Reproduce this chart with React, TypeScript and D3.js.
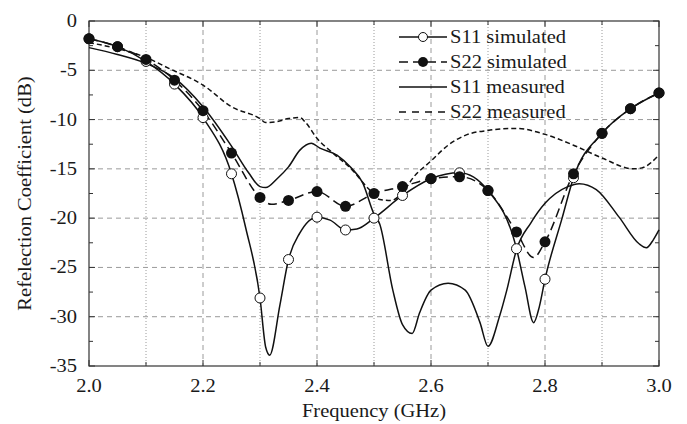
import * as d3 from "d3";

// frequency (GHz), reflection coefficient (dB)
const s11Simulated: [number, number][] = [
  [2.0, -1.8], [2.05, -2.6], [2.1, -4.1], [2.15, -6.4], [2.2, -9.8], [2.25, -15.5],
  [2.275, -21.0], [2.3, -28.1], [2.31, -33.1], [2.317, -33.9], [2.335, -28.8],
  [2.35, -24.2], [2.37, -21.5], [2.4, -19.9], [2.423, -20.2], [2.45, -21.2],
  [2.47, -21.1], [2.5, -20.0], [2.55, -17.7], [2.6, -16.0], [2.65, -15.4],
  [2.7, -17.2], [2.75, -23.1], [2.765, -27.0], [2.78, -30.6], [2.79, -29.0],
  [2.8, -26.2], [2.83, -20.0], [2.85, -15.9], [2.9, -11.4], [2.95, -8.9], [3.0, -7.3],
];

const s22Simulated: [number, number][] = [
  [2.0, -1.8], [2.05, -2.6], [2.1, -3.9], [2.15, -6.0], [2.2, -9.1], [2.25, -13.4],
  [2.3, -17.9], [2.32, -18.6], [2.35, -18.2], [2.4, -17.3], [2.45, -18.8],
  [2.5, -17.5], [2.55, -16.8], [2.6, -16.0], [2.65, -15.8], [2.7, -17.2],
  [2.75, -21.4], [2.78, -24.0], [2.8, -22.4], [2.85, -15.5], [2.9, -11.4],
  [2.95, -8.9], [3.0, -7.3],
];

const s11Measured: [number, number][] = [
  [2.0, -2.7], [2.05, -3.4], [2.1, -4.3], [2.15, -5.8], [2.2, -8.7], [2.25, -12.7],
  [2.28, -15.4], [2.3, -16.8], [2.31, -16.9], [2.33, -16.0], [2.35, -14.8],
  [2.37, -13.1], [2.39, -12.4], [2.405, -12.9], [2.435, -13.6], [2.46, -14.9],
  [2.48, -16.4], [2.5, -19.6], [2.51, -20.6], [2.533, -27.3], [2.55, -30.8],
  [2.567, -31.7], [2.58, -29.6], [2.6, -27.3], [2.63, -26.6], [2.66, -27.3],
  [2.686, -30.6], [2.7, -33.0], [2.72, -30.0], [2.733, -27.3], [2.75, -23.2],
  [2.775, -20.5], [2.8, -18.5], [2.84, -16.8], [2.86, -16.5], [2.89, -17.1],
  [2.93, -19.9], [2.965, -22.6], [2.978, -23.0], [2.99, -22.2], [3.0, -21.2],
];

const s22Measured: [number, number][] = [
  [2.0, -2.2], [2.05, -2.8], [2.1, -3.7], [2.14, -4.8], [2.2, -6.5], [2.25, -8.7],
  [2.3, -9.9], [2.31, -10.3], [2.33, -10.2], [2.35, -9.9], [2.37, -9.8],
  [2.38, -10.3], [2.4, -11.9], [2.43, -13.5], [2.46, -15.0], [2.49, -17.0],
  [2.51, -18.1], [2.53, -18.2], [2.55, -17.4], [2.57, -15.8], [2.6, -14.2],
  [2.63, -12.6], [2.66, -11.6], [2.7, -11.1], [2.75, -10.9], [2.8, -11.5],
  [2.85, -12.6], [2.9, -13.9], [2.955, -15.0], [2.97, -14.9], [3.0, -13.6],
];

const xTicks = [2.0, 2.2, 2.4, 2.6, 2.8, 3.0];
const xMinor = [2.1, 2.3, 2.5, 2.7, 2.9];
const yTicks = [0, -5, -10, -15, -20, -25, -30, -35];
const yMinor = [-2.5, -7.5, -12.5, -17.5, -22.5, -27.5, -32.5];

const legendLabels = ["S11 simulated", "S22 simulated", "S11 measured", "S22 measured"];

const W = 687;
const H = 424;
const m = { left: 89, right: 28, top: 21, bottom: 58 };
const FONT = "'Liberation Serif', 'Times New Roman', serif";

function onMarker(f: number) {
  return Math.abs(f * 20 - Math.round(f * 20)) < 1e-6;
}

function T({ x, y, anchor = "middle", size = 19, rotate = 0, children }: any) {
  return (
    <text
      transform={`translate(${x},${y}) rotate(${rotate}) scale(1.08,1)`}
      textAnchor={anchor}
      fontFamily={FONT}
      fontSize={size}
      fill="#1a1a1a"
    >
      {children}
    </text>
  );
}

export default function App() {
  const x = d3.scaleLinear().domain([2.0, 3.0]).range([m.left, W - m.right]);
  const y = d3.scaleLinear().domain([0, -35]).range([m.top, H - m.bottom]);
  const line = d3
    .line<[number, number]>()
    .x((d) => x(d[0]))
    .y((d) => y(d[1]))
    .curve(d3.curveMonotoneX);

  const [x0, x1] = x.range();
  const [y0, y1] = y.range();
  const grid = "#9a9a9a";

  const legX = 399;
  const legY = 37;
  const legDy = 25;

  return (
    <svg width={W} height={H} style={{ position: "absolute", left: 0, top: 0, background: "#fff" }}>
      {/* grid */}
      {yTicks.slice(1, -1).map((t) => (
        <line key={"gy" + t} x1={x0} x2={x1} y1={y(t)} y2={y(t)} stroke={grid} strokeWidth={1} strokeDasharray="5,4" />
      ))}
      {xTicks.slice(1, -1).map((t) => (
        <line key={"gx" + t} x1={x(t)} x2={x(t)} y1={y0} y2={y1} stroke={grid} strokeWidth={1} strokeDasharray="5,4" />
      ))}
      {xMinor.map((t) => (
        <line key={"gxm" + t} x1={x(t)} x2={x(t)} y1={y0} y2={y1} stroke={grid} strokeWidth={1} strokeDasharray="1,2" />
      ))}

      {/* frame + ticks */}
      <rect x={x0} y={y0} width={x1 - x0} height={y1 - y0} fill="none" stroke="#333" strokeWidth={1.2} />
      {xTicks.map((t) => (
        <g key={"tx" + t}>
          <line x1={x(t)} x2={x(t)} y1={y1} y2={y1 - 6} stroke="#333" />
          <line x1={x(t)} x2={x(t)} y1={y0} y2={y0 + 6} stroke="#333" />
        </g>
      ))}
      {xMinor.map((t) => (
        <g key={"txm" + t}>
          <line x1={x(t)} x2={x(t)} y1={y1} y2={y1 - 4} stroke="#333" />
          <line x1={x(t)} x2={x(t)} y1={y0} y2={y0 + 4} stroke="#333" />
        </g>
      ))}
      {yTicks.map((t) => (
        <g key={"ty" + t}>
          <line x1={x0} x2={x0 + 6} y1={y(t)} y2={y(t)} stroke="#333" />
          <line x1={x1} x2={x1 - 6} y1={y(t)} y2={y(t)} stroke="#333" />
        </g>
      ))}
      {yMinor.map((t) => (
        <g key={"tym" + t}>
          <line x1={x0} x2={x0 + 4} y1={y(t)} y2={y(t)} stroke="#333" />
          <line x1={x1} x2={x1 - 4} y1={y(t)} y2={y(t)} stroke="#333" />
        </g>
      ))}

      {/* tick labels */}
      {xTicks.map((t) => (
        <T key={"lx" + t} x={x(t)} y={y1 + 26}>
          {t.toFixed(1)}
        </T>
      ))}
      {yTicks.map((t) => (
        <T key={"ly" + t} x={77} y={y(t) + 6} anchor="end">
          {t}
        </T>
      ))}
      <T x={(x0 + x1) / 2} y={H - 7}>Frequency (GHz)</T>
      <T x={31} y={(y0 + y1) / 2} rotate={-90}>Refelection Coefficient (dB)</T>

      {/* curves */}
      <path d={line(s22Measured) ?? ""} fill="none" stroke="#111" strokeWidth={1.5} strokeDasharray="5,3" />
      <path d={line(s11Measured) ?? ""} fill="none" stroke="#111" strokeWidth={1.5} />
      <path d={line(s22Simulated) ?? ""} fill="none" stroke="#111" strokeWidth={1.5} strokeDasharray="9,5" />
      <path d={line(s11Simulated) ?? ""} fill="none" stroke="#111" strokeWidth={1.5} />
      {s11Simulated.filter((d) => onMarker(d[0])).map((d) => (
        <circle key={"c1" + d[0]} cx={x(d[0])} cy={y(d[1])} r={5} fill="#fff" stroke="#111" strokeWidth={1} />
      ))}
      {s22Simulated.filter((d) => onMarker(d[0])).map((d) => (
        <circle key={"c2" + d[0]} cx={x(d[0])} cy={y(d[1])} r={5.5} fill="#111" />
      ))}

      {/* legend */}
      {legendLabels.map((lab, i) => {
        const ly = legY + i * legDy;
        const dash = i === 1 ? "9,5" : i === 3 ? "7,6" : undefined;
        return (
          <g key={lab}>
            <line x1={legX} x2={legX + 48} y1={ly} y2={ly} stroke="#111" strokeWidth={1.5} strokeDasharray={dash} />
            {i === 0 && <circle cx={legX + 24} cy={ly} r={4.5} fill="#fff" stroke="#111" />}
            {i === 1 && <circle cx={legX + 24} cy={ly} r={5} fill="#111" />}
            <T x={legX + 51} y={ly + 6} anchor="start">
              {lab}
            </T>
          </g>
        );
      })}
    </svg>
  );
}
